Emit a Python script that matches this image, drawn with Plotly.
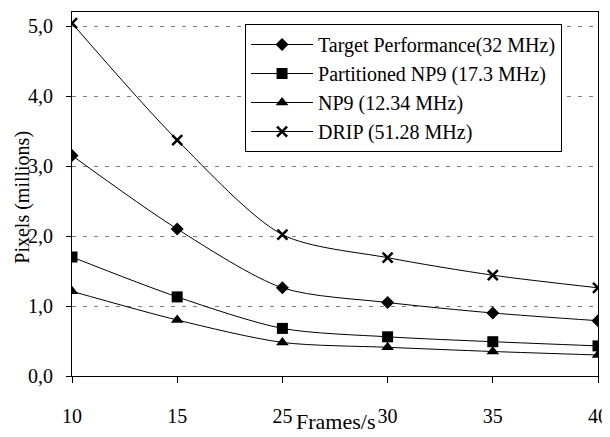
import plotly.graph_objects as go

frames = ["10", "15", "25", "30", "35", "40"]
target = [3.15, 2.10, 1.26, 1.05, 0.90, 0.79]
partitioned = [1.70, 1.13, 0.68, 0.56, 0.49, 0.43]
np9 = [1.21, 0.80, 0.48, 0.41, 0.35, 0.30]
drip = [5.04, 3.37, 2.02, 1.69, 1.44, 1.26]

names = ["Target Performance(32 MHz)", "Partitioned NP9 (17.3 MHz)",
         "NP9 (12.34 MHz)", "DRIP (51.28 MHz)"]
series = [target, partitioned, np9, drip]
symbols = ["diamond", "square", "triangle-up", "x-thin"]
sizes = [10, 11, 11, 10]

FONT = "Liberation Serif"

fig = go.Figure()
for name, vals, sym, sz in zip(names, series, symbols, sizes):
    fig.add_trace(go.Scatter(
        x=list(range(len(frames))), y=vals, name=name, mode="lines+markers",
        line=dict(color="black", width=1, shape="spline", smoothing=0.8),
        marker=dict(symbol=sym, size=sz, color="black",
                    line=dict(color="black", width=2.5 if sym == "x-thin" else 0)),
    ))

# page body has an 8px margin, so the figure is shrunk by 8px and margins adjusted
fig.update_layout(
    width=602, height=429,
    margin=dict(l=64, r=12, t=4, b=61, autoexpand=False),
    paper_bgcolor="white", plot_bgcolor="white",
    font=dict(family=FONT, size=20, color="black"),
    separators=",.",
    showlegend=True,
    legend=dict(x=0.329, y=0.967, xanchor="left", yanchor="top",
                bordercolor="black", borderwidth=1, bgcolor="white",
                font=dict(size=20, family=FONT), tracegroupgap=0,
                itemwidth=62, entrywidth=342, entrywidthmode="pixels"),
    xaxis=dict(
        tickmode="array", tickvals=list(range(len(frames))), ticktext=frames,
        range=[0, 5], showgrid=False, zeroline=False, automargin=False,
        showline=True, linecolor="black", linewidth=1, mirror=True,
        ticks="outside", ticklen=6, tickcolor="black",
        tickfont=dict(size=20, family=FONT), ticklabelstandoff=16,
    ),
    yaxis=dict(
        range=[0, 5.2], tickvals=[0, 1, 2, 3, 4, 5], tickformat=".1f",
        showgrid=True, gridcolor="#808080", griddash="4px,7px", gridwidth=1,
        zeroline=False, showline=True, linecolor="black", linewidth=1,
        mirror=True, ticks="outside", ticklen=5, tickcolor="black",
        automargin=False, tickfont=dict(size=20, family=FONT),
        ticklabelstandoff=9,
    ),
    annotations=[
        dict(text="Pixels (millions)", xref="paper", yref="paper",
             x=-0.093, y=0.49, xanchor="center", yanchor="middle",
             textangle=-90, showarrow=False,
             font=dict(size=20, family=FONT, color="black")),
        dict(text="Frames/s", xref="paper", yref="paper",
             x=0.5, y=-0.125, xanchor="center", yanchor="middle",
             showarrow=False,
             font=dict(size=22, family=FONT, color="black")),
    ],
)

fig.write_html("out.html")
